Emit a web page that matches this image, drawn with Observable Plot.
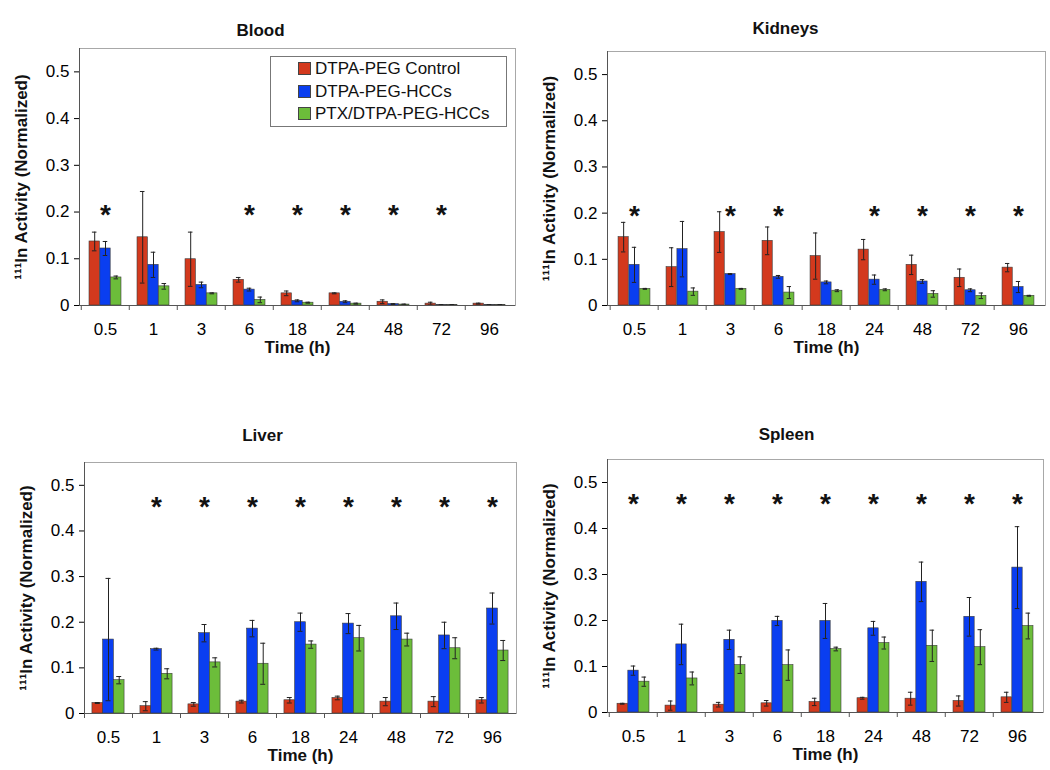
<!DOCTYPE html>
<html><head><meta charset="utf-8">
<script src="https://cdn.jsdelivr.net/npm/d3@7"></script>
<script src="https://cdn.jsdelivr.net/npm/@observablehq/plot@0.6"></script>
<style>
body{margin:0;background:#fff;font-family:"Liberation Sans",Arial,sans-serif;}
#root{position:relative;width:1050px;height:770px;overflow:hidden;background:#fff;}
.panel{position:absolute;}
.legend{position:absolute;left:270px;top:56px;width:235px;height:69px;border:1px solid #777;background:#fff;font-size:17px;color:#111;box-sizing:content-box;}
.legend .item{position:absolute;left:27px;height:22px;line-height:22px;white-space:nowrap;}
.legend .sw{display:inline-block;width:11px;height:11px;border:1px solid #444;margin-right:4px;vertical-align:-1px;}
</style></head><body><div id="root"></div>
<script>
const times = ["0.5","1","3","6","18","24","48","72","96"];
const seriesNames = ["DTPA-PEG Control","DTPA-PEG-HCCs","PTX/DTPA-PEG-HCCs"];
const seriesColors = ["#d3391d","#0a3ef0","#6cbd3a"];
const yTicks = [0, 0.1, 0.2, 0.3, 0.4, 0.5];

// Blood
const bloodControl    = [0.137, 0.146, 0.099, 0.055, 0.026, 0.026, 0.008, 0.004, 0.004];
const bloodControlErr = [0.020, 0.098, 0.058, 0.005, 0.005, 0.001, 0.004, 0.003, 0.001];
const bloodHCC        = [0.122, 0.087, 0.044, 0.034, 0.010, 0.008, 0.003, 0.001, 0.001];
const bloodHCCErr     = [0.015, 0.027, 0.006, 0.003, 0.002, 0.002, 0.001, 0.001, 0.001];
const bloodPTX        = [0.060, 0.041, 0.026, 0.012, 0.006, 0.004, 0.002, 0.001, 0.001];
const bloodPTXErr     = [0.003, 0.006, 0.001, 0.006, 0.001, 0.001, 0.001, 0.001, 0.001];
const bloodStars      = ["0.5","6","18","24","48","72"];

// Kidneys
const kidneyControl    = [0.148, 0.083, 0.159, 0.140, 0.107, 0.121, 0.088, 0.060, 0.082];
const kidneyControlErr = [0.032, 0.042, 0.044, 0.030, 0.050, 0.022, 0.021, 0.019, 0.009];
const kidneyHCC        = [0.088, 0.122, 0.068, 0.062, 0.050, 0.056, 0.052, 0.033, 0.040];
const kidneyHCCErr     = [0.038, 0.060, 0.001, 0.003, 0.003, 0.010, 0.004, 0.003, 0.012];
const kidneyPTX        = [0.036, 0.030, 0.036, 0.028, 0.032, 0.034, 0.025, 0.021, 0.021];
const kidneyPTXErr     = [0.001, 0.008, 0.001, 0.013, 0.002, 0.002, 0.007, 0.006, 0.001];
const kidneyStars      = ["0.5","3","6","24","48","72","96"];

// Liver
const liverControl    = [0.023, 0.016, 0.020, 0.026, 0.029, 0.034, 0.026, 0.026, 0.029];
const liverControlErr = [0.001, 0.010, 0.004, 0.003, 0.006, 0.004, 0.009, 0.011, 0.006];
const liverHCC        = [0.162, 0.141, 0.176, 0.186, 0.200, 0.197, 0.213, 0.171, 0.230];
const liverHCCErr     = [0.134, 0.002, 0.019, 0.018, 0.020, 0.022, 0.029, 0.029, 0.034];
const liverPTX        = [0.073, 0.087, 0.112, 0.109, 0.151, 0.165, 0.162, 0.143, 0.138];
const liverPTXErr     = [0.008, 0.011, 0.010, 0.045, 0.008, 0.028, 0.014, 0.023, 0.022];
const liverStars      = ["1","3","6","18","24","48","72","96"];

// Spleen
const spleenControl    = [0.019, 0.015, 0.017, 0.020, 0.023, 0.031, 0.030, 0.025, 0.033];
const spleenControlErr = [0.001, 0.010, 0.005, 0.006, 0.008, 0.002, 0.014, 0.011, 0.011];
const spleenHCC        = [0.091, 0.148, 0.158, 0.199, 0.199, 0.183, 0.284, 0.208, 0.315];
const spleenHCCErr     = [0.010, 0.044, 0.021, 0.010, 0.038, 0.015, 0.043, 0.042, 0.089];
const spleenPTX        = [0.067, 0.074, 0.103, 0.103, 0.138, 0.151, 0.145, 0.142, 0.188];
const spleenPTXErr     = [0.010, 0.014, 0.018, 0.033, 0.004, 0.013, 0.034, 0.038, 0.028];
const spleenStars      = ["0.5","1","3","6","18","24","48","72","96"];

const yLabel = "¹¹¹In Activity (Normalized)";
const xLabel = "Time (h)";
const fontFamily = "'Liberation Sans', Arial, Helvetica, sans-serif";

const panels = [
  {title:"Blood", values:[bloodControl,bloodHCC,bloodPTX], errors:[bloodControlErr,bloodHCCErr,bloodPTXErr], stars:bloodStars, starLevel:0.2,
   left:0, top:0, width:525, height:360, margins:[79,10,48,55], titleDx:-37, titleDy:-18},
  {title:"Kidneys", values:[kidneyControl,kidneyHCC,kidneyPTX], errors:[kidneyControlErr,kidneyHCCErr,kidneyPTXErr], stars:kidneyStars, starLevel:0.2,
   left:525, top:0, width:525, height:360, margins:[82,5,51,55], titleDx:-41, titleDy:-23},
  {title:"Liver", values:[liverControl,liverHCC,liverPTX], errors:[liverControlErr,liverHCCErr,liverPTXErr], stars:liverStars, starLevel:0.46,
   left:0, top:400, width:525, height:370, margins:[84,9,62,57], titleDx:-38, titleDy:-27},
  {title:"Spleen", values:[spleenControl,spleenHCC,spleenPTX], errors:[spleenControlErr,spleenHCCErr,spleenPTXErr], stars:spleenStars, starLevel:0.46,
   left:525, top:400, width:525, height:370, margins:[82,7,59,58], titleDx:-39, titleDy:-25}
];

function makePanel(cfg){
  const W = cfg.width, H = cfg.height;
  const [ml, mr, mt, mb] = cfg.margins;
  const bw = (W - ml - mr) / times.length;
  const w = bw * 0.223;
  const cap = 5;
  const rows = [];
  seriesNames.forEach((s, k) => times.forEach((t, i) => rows.push({time: t, series: s, k, value: cfg.values[k][i], err: cfg.errors[k][i]})));
  const marks = [];
  marks.push(Plot.frame({stroke: "#a8a8a8"}));
  seriesNames.forEach((s, k) => {
    const data = rows.filter(d => d.k === k);
    const il = bw / 2 - 1.5 * w + k * w;
    marks.push(Plot.barY(data, {x: "time", y: "value", fill: seriesColors[k], stroke: "#3a3a3a", strokeWidth: 0.6,
      insetLeft: il, insetRight: bw - il - w}));
  });
  seriesNames.forEach((s, k) => {
    const data = rows.filter(d => d.k === k);
    const cx = bw / 2 + (k - 1) * w;
    marks.push(Plot.ruleX(data, {x: "time", y1: d => Math.max(0, d.value - d.err), y2: d => d.value + d.err, dx: (k - 1) * w, stroke: "#222", strokeWidth: 1}));
    marks.push(Plot.tickY(data, {x: "time", y: d => d.value + d.err, insetLeft: cx - cap / 2, insetRight: bw - cx - cap / 2, stroke: "#222", strokeWidth: 1}));
    marks.push(Plot.tickY(data, {x: "time", y: d => Math.max(0, d.value - d.err), insetLeft: cx - cap / 2, insetRight: bw - cx - cap / 2, stroke: "#222", strokeWidth: 1}));
  });
  marks.push(Plot.ruleY([0], {stroke: "#555"}));
  marks.push(Plot.frame({anchor: "left", stroke: "#555"}));
  marks.push(Plot.text(cfg.stars, {x: d => d, y: () => cfg.starLevel, text: () => "*", fontSize: 28, fontWeight: "bold", dy: 3, fill: "#111"}));
  marks.push(Plot.axisY({ticks: yTicks, tickSize: 5, tickPadding: 5, fontSize: 17, label: null,
    tickFormat: d => d === 0 ? "0" : d3.format(".1f")(d)}));
  marks.push(Plot.axisX({tickSize: 0, tickPadding: 17, fontSize: 17, label: null}));
  marks.push(Plot.axisX({tickSize: 5, tickFormat: () => "", dx: -bw / 2, label: null, stroke: "#555"}));
  marks.push(Plot.text([cfg.title], {text: d => d, frameAnchor: "top", lineAnchor: "middle", textAnchor: "middle", dx: cfg.titleDx, dy: cfg.titleDy, fontSize: 17, fontWeight: "bold", fill: "#111"}));
  marks.push(Plot.text([yLabel], {text: d => d, frameAnchor: "left", textAnchor: "middle", lineAnchor: "middle", dx: -58, rotate: -90, fontSize: 17, fontWeight: "bold", fill: "#111"}));
  marks.push(Plot.text([xLabel], {text: d => d, frameAnchor: "bottom", textAnchor: "middle", lineAnchor: "middle", dy: 42, fontSize: 17, fontWeight: "bold", fill: "#111"}));

  const svg = Plot.plot({
    width: W, height: H,
    marginLeft: ml, marginRight: mr, marginTop: mt, marginBottom: mb,
    x: {type: "band", domain: times, padding: 0, axis: null},
    y: {domain: [0, 0.55], axis: null},
    style: {fontFamily, color: "#000", background: "transparent", overflow: "visible"},
    marks
  });
  svg.classList.add("panel");
  svg.style.position = "absolute";
  svg.style.left = cfg.left + "px";
  svg.style.top = cfg.top + "px";
  return svg;
}

const root = document.getElementById("root");
panels.forEach(cfg => root.appendChild(makePanel(cfg)));

const legend = document.createElement("div");
legend.className = "legend";
seriesNames.forEach((s, k) => {
  const item = document.createElement("div");
  item.className = "item";
  item.style.top = (1 + k * 22.5) + "px";
  const sw = document.createElement("span");
  sw.className = "sw";
  sw.style.background = seriesColors[k];
  item.appendChild(sw);
  item.appendChild(document.createTextNode(s));
  legend.appendChild(item);
});
root.appendChild(legend);
</script>
</body></html>
